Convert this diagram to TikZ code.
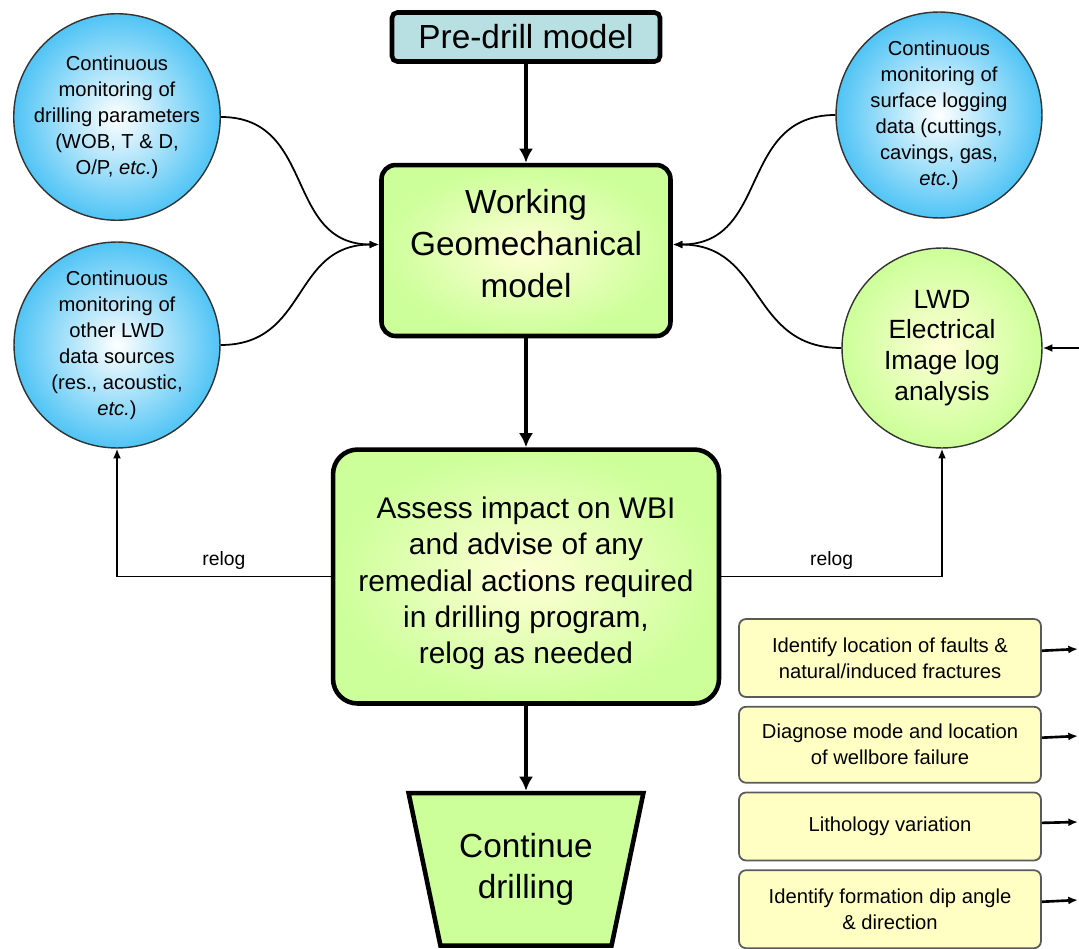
\documentclass[tikz,border=0pt]{standalone}
\usepackage{fontspec}
\setmainfont{Liberation Sans}
\usetikzlibrary{positioning,shapes.geometric,arrows.meta}

\definecolor{skyedge}{RGB}{80,196,245}
\definecolor{limefill}{RGB}{204,255,153}
\definecolor{creamfill}{RGB}{255,255,214}
\definecolor{tealfill}{RGB}{184,224,226}
\definecolor{notefill}{RGB}{255,255,196}
\definecolor{notedraw}{RGB}{90,90,90}

\begin{document}
\begin{tikzpicture}
    [ x = .02cm, y = -.02cm
    , >={Latex[length=5.5pt,width=4.5pt]}
    , model/.style =
      { draw, line width=2.6pt, align=center, shading=radial
      , inner color=creamfill, outer color=limefill }
    , monitor/.style =
      { draw=black!80, circle, line width=.8pt, minimum size=4.12cm, inner sep=0pt
      , align=center, shading=radial, inner color=white, outer color=skyedge
      , font=\fontsize{11.5}{14.8}\selectfont }
    , note/.style =
      { draw=notedraw, fill=notefill, line width=1pt, rounded corners=4pt
      , minimum width=6.04cm, align=center
      , font=\fontsize{11.5}{14.8}\selectfont }
    , flow/.style =
      { line width=2.2pt, -{Latex[length=8pt,width=8pt]} }
    , link/.style =
      { line width=1pt, ->, looseness=1.2 }
    , relog/.style =
      { line width=1pt, -> }
    ]
    \useasboundingbox (0,0) rectangle (1079,949);

    \node [draw, line width=2.6pt, fill=tealfill, rounded corners=3pt,
           minimum width=5.36cm, minimum height=0.98cm,
           font=\fontsize{19}{23}\selectfont] (predrill) at (526,37) {Pre-drill model};
    \node [model, rounded corners=8pt, minimum width=5.78cm, minimum height=3.42cm,
           font=\fontsize{19}{24}\selectfont] (working) [below=1.98cm of predrill]
           {Working\\Geomechanical\\model\\[-16pt]};
    \node [model, rounded corners=14pt, minimum width=7.72cm, minimum height=5.08cm,
           font=\fontsize{17}{20.5}\selectfont] (assess) [below=2.18cm of working]
           {\rule{0pt}{20pt}Assess impact on WBI\\and advise of any\\remedial actions required\\in drilling program,\\relog as needed};
    \node [draw, line width=2.6pt, fill=limefill, trapezium, shape border rotate=180,
           trapezium angle=72, trapezium stretches=true,
           minimum width=4.7cm, minimum height=3.05cm, align=center,
           font=\fontsize{19}{23}\selectfont] (continue) [below=1.7cm of assess]
           {Continue\\drilling};

    \node [monitor] (drillpar) at (117,117)
          {Continuous\\monitoring of\\drilling parameters\\(WOB, T \& D,\\O/P, \textit{etc.})};
    \node [monitor] (lwdsrc) at (117,345)
          {Continuous\\monitoring of\\other LWD\\data sources\\(res., acoustic,\\\textit{etc.})};
    \node [monitor] (surface) at (939,115)
          {Continuous\\monitoring of\\surface logging\\data (cuttings,\\cavings, gas,\\\textit{etc.})};
    \node [monitor, minimum size=4cm, inner color=creamfill, outer color=limefill,
           font=\fontsize{15}{17.5}\selectfont] (imagelog) at (942,348)
          {LWD\\Electrical\\Image log\\analysis};

    \node [note, minimum height=1.56cm] (faults) at (890,658)
          {Identify location of faults \&\\natural/induced fractures};
    \node [note, minimum height=1.52cm] (failure) [below=.16cm of faults]
          {Diagnose mode and location\\of wellbore failure};
    \node [note, minimum height=1.36cm] (litho) [below=.16cm of failure]
          {Lithology variation};
    \node [note, minimum height=1.56cm] (dip) [below=.16cm of litho]
          {Identify formation dip angle\\\& direction};

    \coordinate (imgin) at (1079,348);
    \coordinate (out1) at (1078,649);
    \coordinate (out2) at (1078,736);
    \coordinate (out3) at (1078,822);
    \coordinate (out4) at (1078,900);

    \draw [flow] (predrill) -- (working);
    \draw [flow] (working) -- (assess);
    \draw [flow] (assess) -- (continue);

    \draw [link] (drillpar.east) to [out=0, in=180] ([yshift=.12cm]working.west);
    \draw [link] (lwdsrc.east) to [out=0, in=180] ([yshift=.12cm]working.west);
    \draw [link] (surface.west) to [out=180, in=0] ([yshift=.12cm]working.east);
    \draw [link] (imagelog.west) to [out=180, in=0] ([yshift=.12cm]working.east);
    \draw [relog] (imgin) -- (imagelog);

    \draw [relog] (assess.west) -| node [pos=.25, above, font=\fontsize{11}{13}\selectfont] {relog} (lwdsrc.south);
    \draw [relog] (assess.east) -| node [pos=.25, above, font=\fontsize{11}{13}\selectfont] {relog} (imagelog.south);

    \draw [relog, line width=1.5pt] (faults) -- (out1);
    \draw [relog, line width=1.5pt] (failure) -- (out2);
    \draw [relog, line width=1.5pt] (litho) -- (out3);
    \draw [relog, line width=1.5pt] (dip) -- (out4);
\end{tikzpicture}
\end{document}
